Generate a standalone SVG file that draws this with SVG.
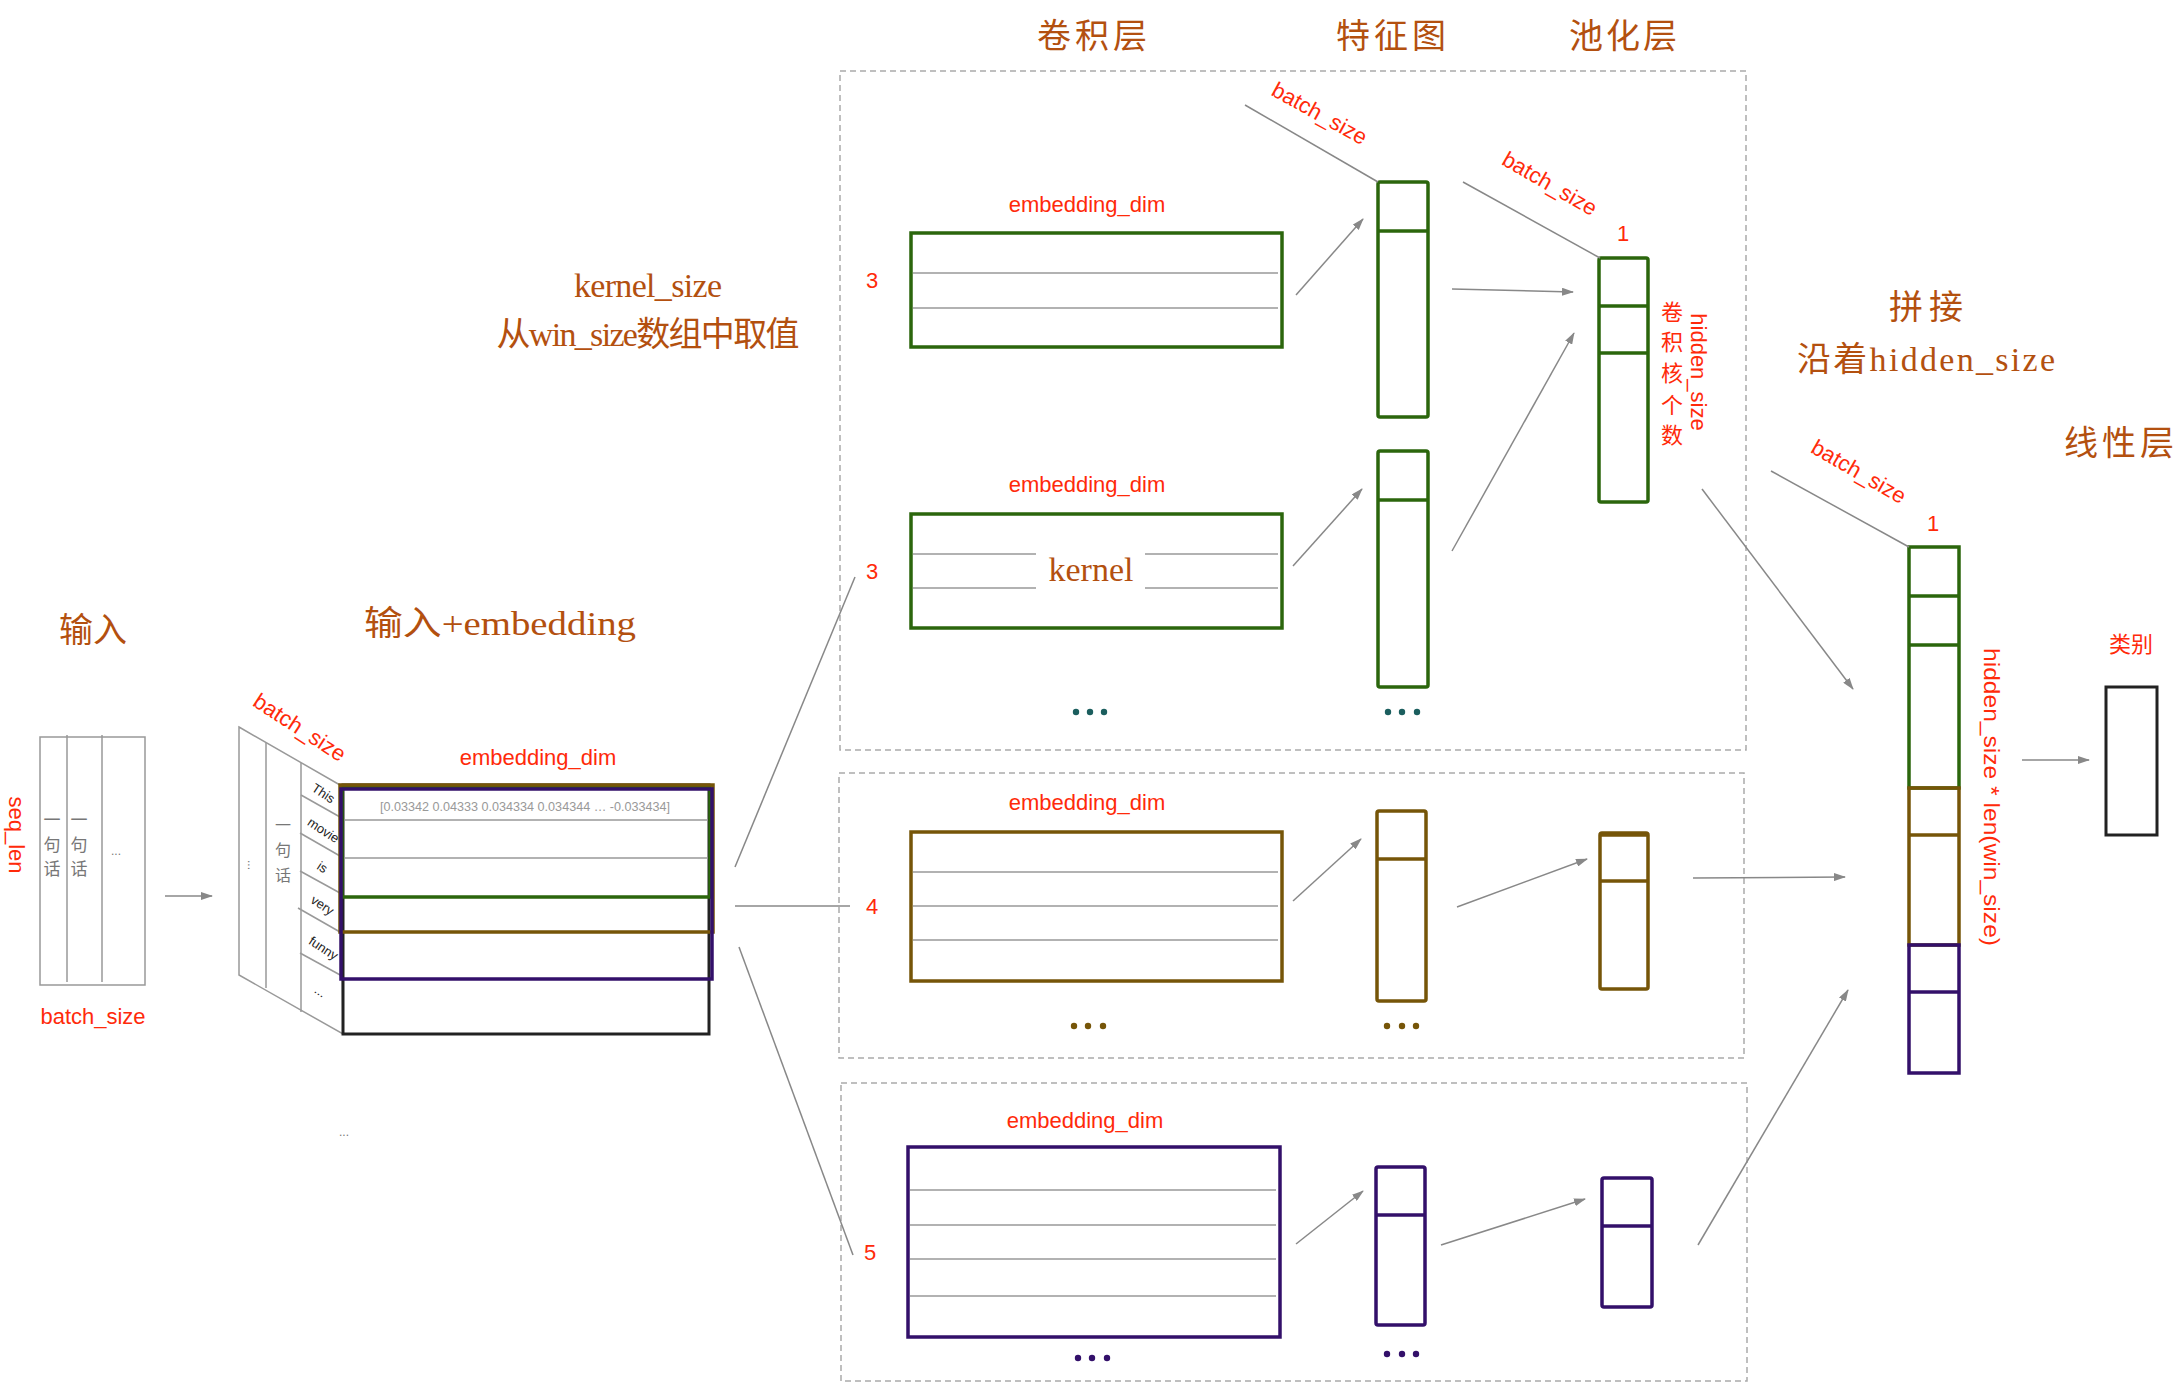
<svg xmlns="http://www.w3.org/2000/svg" width="2182" height="1383" viewBox="0 0 2182 1383">
<defs>
<marker id="ah" markerWidth="12" markerHeight="8" refX="11" refY="4" orient="auto" markerUnits="userSpaceOnUse">
<path d="M0,0 L12,4 L0,8 z" fill="#888"/>
</marker>
<style>
.title{font-family:"Liberation Serif","Noto Sans CJK SC",serif;fill:#b3500f;font-size:34px;text-anchor:middle}
.lbl{font-family:"Liberation Sans","Noto Sans CJK SC",sans-serif;fill:#ff2a0a;font-size:22px;text-anchor:middle}
.gtxt{font-family:"Liberation Sans","Noto Sans CJK SC",sans-serif;fill:#777;text-anchor:middle}
.dash{fill:none;stroke:#aaa;stroke-width:1.5;stroke-dasharray:6 4}
.g{fill:none;stroke:#2b660c;stroke-width:3.5}
.b{fill:none;stroke:#765508;stroke-width:3.5}
.p{fill:none;stroke:#33106a;stroke-width:3.5}
.k{fill:none;stroke:#222;stroke-width:3}
.row{stroke:#999;stroke-width:1.5;fill:none}
.thin{stroke:#999;stroke-width:1.5;fill:none}
.con{stroke:#888;stroke-width:1.5;fill:none}
.arr{stroke:#888;stroke-width:1.5;fill:none;marker-end:url(#ah)}
</style>
</defs>
<rect width="2182" height="1383" fill="#fff"/>

<g id="titles">
<text class="title" x="93" y="642">输入</text>
<text class="title" x="500" y="635" textLength="272" lengthAdjust="spacingAndGlyphs">输入+embedding</text>
<text class="title" x="1092" y="48" textLength="110" lengthAdjust="spacing">卷积层</text>
<text class="title" x="1391" y="48" textLength="110" lengthAdjust="spacing">特征图</text>
<text class="title" x="1623" y="48" textLength="108" lengthAdjust="spacing">池化层</text>
<text class="title" x="1926" y="319" textLength="74" lengthAdjust="spacing">拼接</text>
<text class="title" x="1926" y="371" textLength="258" lengthAdjust="spacing">沿着hidden_size</text>
<text class="title" x="2119" y="455" textLength="110" lengthAdjust="spacing">线性层</text>
<text class="title" x="648" y="297" font-size="30" textLength="148" lengthAdjust="spacing">kernel_size</text>
<text class="title" x="648" y="346" font-size="30" textLength="303" lengthAdjust="spacing">从win_size数组中取值</text>
</g>

<g id="input">
<rect x="40" y="737" width="105" height="248" class="thin"/>
<line x1="67" y1="735" x2="67" y2="982" class="thin"/>
<line x1="102" y1="735" x2="102" y2="982" class="thin"/>
<text class="gtxt" x="52" y="826" font-size="17">一</text>
<text class="gtxt" x="52" y="851" font-size="17">句</text>
<text class="gtxt" x="52" y="875" font-size="17">话</text>
<text class="gtxt" x="79" y="826" font-size="17">一</text>
<text class="gtxt" x="79" y="851" font-size="17">句</text>
<text class="gtxt" x="79" y="875" font-size="17">话</text>
<text class="gtxt" x="116" y="855" font-size="12">...</text>
<text class="lbl" transform="translate(17,835) rotate(90)" y="8">seq_len</text>
<text class="lbl" x="93" y="1024">batch_size</text>
</g>

<g id="embedding">
<polygon points="239,727 340,785 343,1034 239,975" class="thin"/>
<line x1="266" y1="743" x2="266" y2="988" class="thin"/>
<line x1="301" y1="763" x2="301" y2="1012" class="thin"/>
<line x1="301" y1="795" x2="340" y2="817" class="thin"/>
<line x1="300" y1="833" x2="340" y2="856" class="thin"/>
<line x1="300" y1="871" x2="340" y2="893" class="thin"/>
<line x1="298" y1="908" x2="340" y2="932" class="thin"/>
<line x1="300" y1="953" x2="342" y2="976" class="thin"/>
<text class="gtxt" x="283" y="831" font-size="16">一</text>
<text class="gtxt" x="283" y="856" font-size="16">句</text>
<text class="gtxt" x="283" y="881" font-size="16">话</text>
<text class="gtxt" transform="translate(252,865) rotate(90)" y="4" font-size="12">...</text>
<g font-family="Liberation Sans, sans-serif" font-size="13" fill="#222" text-anchor="middle">
<text transform="translate(321,797) rotate(33)">This</text>
<text transform="translate(321,834) rotate(33)">movie</text>
<text transform="translate(320,871) rotate(33)">is</text>
<text transform="translate(320,909) rotate(33)">very</text>
<text transform="translate(321,952) rotate(33)">funny</text>
<text transform="translate(318,995) rotate(33)">...</text>
</g>
<rect x="343" y="785" width="366" height="249" class="k"/>
<line x1="345" y1="820" x2="708" y2="820" class="row"/>
<line x1="345" y1="858" x2="708" y2="858" class="row"/>
<rect x="342" y="787" width="368" height="110" class="g"/>
<rect x="340" y="785" width="373" height="147" class="b"/>
<rect x="341" y="789" width="371" height="190" class="p"/>
<text class="gtxt" x="525" y="811" font-size="12.5" textLength="290" lengthAdjust="spacingAndGlyphs" style="fill:#999">[0.03342 0.04333 0.034334  0.034344 … -0.033434]</text>
<text class="lbl" x="538" y="765" font-size="23">embedding_dim</text>
<text class="lbl" transform="translate(300,727) rotate(33)" y="8" font-size="24">batch_size</text>
<text class="gtxt" x="344" y="1136" font-size="12">...</text>
</g>

<g id="panel-3">
<rect x="840" y="71" width="906" height="679" class="dash"/>
<text class="lbl" x="1087" y="212">embedding_dim</text>
<rect x="911" y="233" width="371" height="114" class="g"/>
<line x1="913" y1="273" x2="1278" y2="273" class="row"/>
<line x1="913" y1="308" x2="1278" y2="308" class="row"/>
<text class="lbl" x="872" y="288">3</text>
<text class="lbl" x="1087" y="492">embedding_dim</text>
<rect x="911" y="514" width="371" height="114" class="g"/>
<line x1="913" y1="554" x2="1036" y2="554" class="row"/>
<line x1="913" y1="588" x2="1036" y2="588" class="row"/>
<line x1="1145" y1="554" x2="1278" y2="554" class="row"/>
<line x1="1145" y1="588" x2="1278" y2="588" class="row"/>
<text class="title" x="1091" y="581" font-size="41">kernel</text>
<text class="lbl" x="872" y="579">3</text>
<g fill="#1b5e5e"><circle cx="1076" cy="712" r="3.2"/><circle cx="1090" cy="712" r="3.2"/><circle cx="1104" cy="712" r="3.2"/></g>
<rect x="1378" y="182" width="50" height="235" rx="2" class="g"/>
<line x1="1378" y1="231" x2="1428" y2="231" class="g"/>
<rect x="1378" y="451" width="50" height="236" rx="2" class="g"/>
<line x1="1378" y1="500" x2="1428" y2="500" class="g"/>
<g fill="#1b5e5e"><circle cx="1388" cy="712" r="3.2"/><circle cx="1402" cy="712" r="3.2"/><circle cx="1417" cy="712" r="3.2"/></g>
<rect x="1599" y="258" width="49" height="244" rx="2" class="g"/>
<line x1="1599" y1="306" x2="1648" y2="306" class="g"/>
<line x1="1599" y1="353" x2="1648" y2="353" class="g"/>
<text class="lbl" transform="translate(1316,120) rotate(29)" y="0" font-size="23">batch_size</text>
<text class="lbl" transform="translate(1546,190) rotate(30)" y="0" font-size="23">batch_size</text>
<text class="lbl" x="1623" y="241" font-size="20">1</text>
<g class="lbl">
<text x="1672" y="320">卷</text>
<text x="1672" y="350">积</text>
<text x="1672" y="381">核</text>
<text x="1672" y="413">个</text>
<text x="1672" y="443">数</text>
</g>
<text class="lbl" transform="translate(1699,372) rotate(90)" y="8">hidden_size</text>
</g>

<g id="panel-4">
<rect x="839" y="773" width="905" height="285" class="dash"/>
<text class="lbl" x="1087" y="810">embedding_dim</text>
<rect x="911" y="832" width="371" height="149" class="b"/>
<line x1="913" y1="872" x2="1278" y2="872" class="row"/>
<line x1="913" y1="906" x2="1278" y2="906" class="row"/>
<line x1="913" y1="940" x2="1278" y2="940" class="row"/>
<text class="lbl" x="872" y="914">4</text>
<g fill="#765508"><circle cx="1074" cy="1026" r="3.2"/><circle cx="1088" cy="1026" r="3.2"/><circle cx="1103" cy="1026" r="3.2"/></g>
<rect x="1377" y="811" width="49" height="190" rx="2" class="b"/>
<line x1="1377" y1="859" x2="1426" y2="859" class="b"/>
<g fill="#765508"><circle cx="1387" cy="1026" r="3.2"/><circle cx="1402" cy="1026" r="3.2"/><circle cx="1416" cy="1026" r="3.2"/></g>
<rect x="1600" y="833" width="48" height="156" rx="2" class="b"/>
<line x1="1600" y1="835" x2="1648" y2="835" class="b"/>
<line x1="1600" y1="881" x2="1648" y2="881" class="b"/>
</g>

<g id="panel-5">
<rect x="841" y="1083" width="906" height="298" class="dash"/>
<text class="lbl" x="1085" y="1128">embedding_dim</text>
<rect x="908" y="1147" width="372" height="190" class="p"/>
<line x1="910" y1="1190" x2="1276" y2="1190" class="row"/>
<line x1="910" y1="1225" x2="1276" y2="1225" class="row"/>
<line x1="910" y1="1259" x2="1276" y2="1259" class="row"/>
<line x1="910" y1="1296" x2="1276" y2="1296" class="row"/>
<text class="lbl" x="870" y="1260">5</text>
<g fill="#33106a"><circle cx="1078" cy="1358" r="3.2"/><circle cx="1092" cy="1358" r="3.2"/><circle cx="1107" cy="1358" r="3.2"/></g>
<rect x="1376" y="1167" width="49" height="158" rx="2" class="p"/>
<line x1="1376" y1="1215" x2="1425" y2="1215" class="p"/>
<g fill="#33106a"><circle cx="1387" cy="1354" r="3.2"/><circle cx="1402" cy="1354" r="3.2"/><circle cx="1416" cy="1354" r="3.2"/></g>
<rect x="1602" y="1178" width="50" height="129" rx="2" class="p"/>
<line x1="1602" y1="1226" x2="1652" y2="1226" class="p"/>
</g>

<g id="concat">
<rect x="1909" y="547" width="50" height="241" class="g"/>
<line x1="1909" y1="596" x2="1959" y2="596" class="g"/>
<line x1="1909" y1="645" x2="1959" y2="645" class="g"/>
<rect x="1909" y="788" width="50" height="157" class="b"/>
<line x1="1909" y1="835" x2="1959" y2="835" class="b"/>
<rect x="1909" y="945" width="50" height="128" class="p"/>
<line x1="1909" y1="992" x2="1959" y2="992" class="p"/>
<text class="lbl" transform="translate(1855,478) rotate(30)" y="0" font-size="23">batch_size</text>
<text class="lbl" x="1933" y="531" font-size="20">1</text>
<text class="lbl" transform="translate(1992,797) rotate(90)" y="8" font-size="24" textLength="298" lengthAdjust="spacingAndGlyphs">hidden_size * len(win_size)</text>
</g>

<g id="linear">
<rect x="2106" y="687" width="51" height="148" class="k"/>
<text class="lbl" x="2131" y="652">类别</text>
</g>

<g id="connectors">
<line x1="165" y1="896" x2="212" y2="896" class="arr"/>
<line x1="735" y1="867" x2="855" y2="577" class="con"/>
<line x1="735" y1="906" x2="850" y2="906" class="con"/>
<line x1="739" y1="947" x2="853" y2="1255" class="con"/>
<line x1="1245" y1="105" x2="1378" y2="182" class="con"/>
<line x1="1463" y1="182" x2="1600" y2="258" class="con"/>
<line x1="1771" y1="471" x2="1909" y2="547" class="con"/>
<line x1="1296" y1="295" x2="1363" y2="219" class="arr"/>
<line x1="1452" y1="289" x2="1573" y2="292" class="arr"/>
<line x1="1293" y1="566" x2="1362" y2="489" class="arr"/>
<line x1="1452" y1="551" x2="1574" y2="333" class="arr"/>
<line x1="1702" y1="489" x2="1853" y2="689" class="arr"/>
<line x1="1293" y1="901" x2="1361" y2="839" class="arr"/>
<line x1="1457" y1="907" x2="1587" y2="859" class="arr"/>
<line x1="1693" y1="878" x2="1845" y2="877" class="arr"/>
<line x1="1296" y1="1244" x2="1363" y2="1191" class="arr"/>
<line x1="1441" y1="1245" x2="1585" y2="1199" class="arr"/>
<line x1="1698" y1="1245" x2="1848" y2="990" class="arr"/>
<line x1="2022" y1="760" x2="2089" y2="760" class="arr"/>
</g>
</svg>
